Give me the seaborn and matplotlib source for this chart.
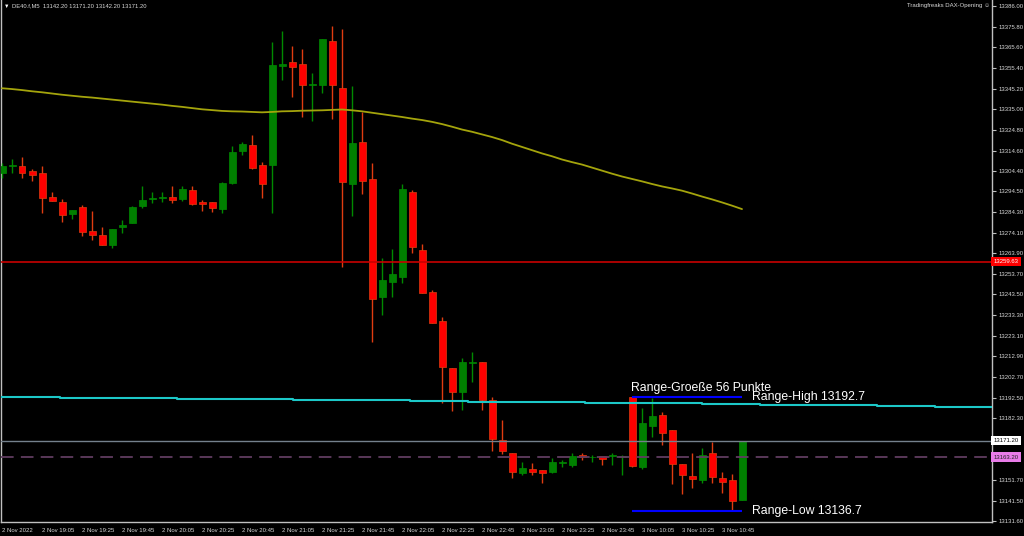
import numpy as np, pandas as pd, matplotlib
matplotlib.use('Agg')
import matplotlib.pyplot as plt
import matplotlib.transforms as mtransforms
import seaborn as sns

# --- candle data (DE40.f, M5) ---
opens = [13303.5, 13307.2, 13307.0, 13304.5, 13303.5, 13291.6, 13289.2, 13283.2, 13286.7, 13274.9,
         13272.9, 13267.9, 13276.8, 13278.8, 13287.2, 13290.7, 13291.2, 13291.6, 13290.7, 13295.1,
         13289.2, 13289.2, 13285.7, 13298.6, 13314.4, 13317.3, 13307.5, 13307.5, 13356.4, 13358.3,
         13357.3, 13347.0, 13347.0, 13368.7, 13345.5, 13298.1, 13318.8, 13300.5, 13242.2, 13249.7,
         13252.1, 13294.1, 13265.5, 13244.7, 13230.4, 13207.2, 13195.3, 13209.6, 13210.1, 13191.4,
         13171.6, 13165.2, 13155.3, 13157.3, 13156.8, 13155.8, 13160.2, 13159.3, 13164.2, 13163.0,
         13163.7, 13163.7, 13163.2, 13192.7, 13158.3, 13178.5, 13184.0, 13176.5, 13159.7, 13153.8,
         13151.8, 13165.2, 13152.8, 13151.8, 13142.2]
highs = [13308.4, 13310.4, 13311.4, 13305.5, 13307.0, 13294.1, 13290.7, 13285.2, 13287.7, 13284.7,
         13276.8, 13275.8, 13280.3, 13287.2, 13297.1, 13294.1, 13294.1, 13297.1, 13297.1, 13297.1,
         13290.2, 13289.2, 13299.1, 13316.8, 13318.8, 13322.3, 13308.9, 13368.2, 13373.6, 13366.2,
         13364.8, 13352.9, 13369.7, 13376.1, 13374.6, 13346.5, 13333.6, 13308.4, 13261.5, 13266.0,
         13298.1, 13295.1, 13268.4, 13245.7, 13232.4, 13207.2, 13212.1, 13215.1, 13210.1, 13192.8,
         13181.5, 13165.2, 13160.7, 13160.2, 13156.8, 13162.7, 13161.7, 13165.2, 13165.2, 13164.2,
         13163.7, 13165.2, 13164.2, 13192.7, 13187.4, 13192.5, 13185.4, 13176.5, 13159.7, 13165.2,
         13167.7, 13170.6, 13155.8, 13154.8, 13171.2]
lows = [13301.0, 13303.5, 13301.0, 13299.5, 13283.7, 13289.7, 13279.3, 13280.8, 13272.4, 13270.4,
        13267.9, 13266.5, 13273.9, 13278.8, 13286.2, 13288.7, 13289.2, 13288.7, 13289.7, 13287.7,
        13284.7, 13284.2, 13283.7, 13298.1, 13312.4, 13305.5, 13291.2, 13283.7, 13349.4, 13341.0,
        13331.2, 13329.2, 13343.0, 13330.2, 13257.1, 13282.3, 13293.1, 13220.0, 13233.4, 13242.2,
        13249.2, 13264.0, 13244.2, 13229.4, 13189.9, 13185.9, 13186.4, 13200.3, 13186.4, 13166.2,
        13164.7, 13152.8, 13154.3, 13154.3, 13150.4, 13155.3, 13158.3, 13158.3, 13161.7, 13160.7,
        13159.3, 13159.3, 13154.3, 13158.3, 13157.3, 13173.1, 13169.1, 13149.9, 13144.9, 13147.9,
        13150.4, 13150.4, 13145.4, 13136.7, 13142.2]
closes = [13307.0, 13307.5, 13303.5, 13302.5, 13291.2, 13289.7, 13282.8, 13285.2, 13274.4, 13272.9,
          13267.9, 13275.8, 13277.8, 13286.7, 13290.2, 13291.2, 13291.6, 13290.2, 13295.6, 13288.2,
          13288.2, 13286.2, 13298.6, 13313.9, 13317.8, 13306.0, 13298.1, 13356.9, 13357.3, 13355.9,
          13347.0, 13347.5, 13369.7, 13347.0, 13299.1, 13318.3, 13299.5, 13241.3, 13250.6, 13253.6,
          13295.6, 13266.9, 13244.2, 13229.4, 13207.7, 13195.3, 13210.1, 13210.1, 13191.4, 13172.1,
          13166.2, 13155.8, 13157.8, 13155.8, 13155.3, 13160.7, 13160.7, 13163.7, 13163.2, 13163.2,
          13162.2, 13164.2, 13163.7, 13158.8, 13180.0, 13183.5, 13175.1, 13159.7, 13154.3, 13152.3,
          13164.2, 13153.3, 13150.9, 13141.5, 13171.2]

# slow moving average (yellow)
ma_slow = [13345.4, 13345.0, 13344.5, 13343.9, 13343.4, 13342.8, 13342.2, 13341.7, 13341.2, 13340.8,
           13340.3, 13339.8, 13339.3, 13338.8, 13338.3, 13337.8, 13337.3, 13336.7, 13336.2, 13335.6,
           13335.0, 13334.6, 13334.2, 13334.0, 13333.9, 13333.7, 13333.5, 13333.7, 13334.0, 13334.1,
           13334.3, 13334.4, 13334.5, 13334.7, 13334.9, 13334.5, 13334.0, 13333.3, 13332.6, 13331.9,
           13331.2, 13330.4, 13329.7, 13328.8, 13327.7, 13326.4, 13325.0, 13323.9, 13322.6, 13321.3,
           13319.8, 13318.0, 13316.4, 13314.8, 13313.2, 13311.8, 13310.2, 13308.9, 13307.7, 13306.2,
           13304.7, 13303.2, 13301.8, 13300.6, 13299.4, 13298.1, 13296.9, 13295.9, 13294.8, 13293.4,
           13291.9, 13290.5, 13289.0, 13287.4, 13285.7]

# higher timeframe average (cyan, stepped)
cyan_x = [-0.2, 5.8, 11.6, 17.5, 23.3, 29.1, 35.0, 40.8, 46.6, 52.5, 58.3, 64.1, 70.0, 75.8, 81.6,
          87.5, 93.3, 99.0]
cyan_vals = [13192.8, 13192.6, 13192.3, 13192.0, 13191.7, 13191.5, 13191.3, 13191.0, 13190.5, 13190.2,
             13189.9, 13189.7, 13189.4, 13189.0, 13188.7, 13188.4, 13187.9, 13187.9]

red_level = 13259.63
bid_level = 13171.20
open_level = 13163.20
range_high = 13192.7
range_low = 13136.7
range_start, range_end = 63, 74

ytick_vals = [13386.0, 13375.8, 13365.6, 13355.4, 13345.2, 13335.0, 13324.8, 13314.6, 13304.4, 13294.5,
              13284.3, 13274.1, 13263.9, 13253.7, 13243.5, 13233.3, 13223.1, 13212.9, 13202.7, 13192.5,
              13182.3, 13172.1, 13161.9, 13151.7, 13141.5, 13131.6]
# the two labels hidden behind the price tags stay blank
hidden_ticks = [13172.1, 13161.9]
ytick_labels = ['' if v in hidden_ticks else f'{v:.2f}' for v in ytick_vals]

times = list(pd.date_range('2022-11-02 18:45', periods=63, freq='5min')) + \
        list(pd.date_range('2022-11-03 10:00', periods=12, freq='5min'))
xtick_idx = list(range(0, 75, 4))
xtick_labels = ['2 Nov 2022'] + [f"{times[i].day} {times[i].strftime('%b %H:%M')}" for i in xtick_idx[1:]]

# --- style ---
sns.set_style('dark', rc={'axes.facecolor': 'black', 'figure.facecolor': 'black'})
plt.rcParams['font.family'] = ['Liberation Sans', 'DejaVu Sans']

fig = plt.figure(figsize=(10.24, 5.36), dpi=100)
ax = fig.add_axes([1/1024, 14/536, 991/1024, 522/536])
ax.set_facecolor('black')

df = pd.DataFrame({'i': np.arange(len(opens)), 'o': opens, 'h': highs, 'l': lows, 'c': closes})
up = df.c >= df.o
body_col = np.where(up, '#008000', '#ff0000')
wick_col = np.where(up, '#008a00', '#e03c10')

ax.vlines(df.i, df.l, df.h, colors=wick_col, lw=1.0, zorder=3)
ax.bar(df.i, np.maximum((df.c - df.o).abs(), 0.45), bottom=np.minimum(df.o, df.c),
       width=0.7, color=body_col, edgecolor=wick_col, linewidth=0.5, zorder=4)

sns.lineplot(x=df.i, y=ma_slow, ax=ax, color='#a4a40c', lw=1.3, zorder=5)
sns.lineplot(x=cyan_x, y=cyan_vals, ax=ax, color='#1cc8c8', lw=1.5, drawstyle='steps-post', zorder=5)

ax.axhline(red_level, color='#c80000', lw=1.2, zorder=5)
ax.axhline(bid_level, color='#74808c', lw=1.0, zorder=5)
ax.axhline(open_level, color='#603c60', lw=1.3, ls=(0, (7, 4)), zorder=5)
ax.hlines([range_high, range_low], range_start, range_end, color='#0000ff', lw=1.5, zorder=6)

tf = dict(color='white', fontsize=8.8, zorder=7)
ax.annotate('Range-Groeße 56 Punkte', (range_start, range_high), xytext=(-0.5, 2.5),
            textcoords='offset points', va='bottom', ha='left', **tf)
ax.text(range_end + 1, range_high, 'Range-High 13192.7', va='center', ha='left', **tf)
ax.text(range_end + 1, range_low, 'Range-Low 13136.7', va='center', ha='left', **tf)

ax.set_xlim(-0.1, 99.0)
ax.set_ylim(13131.1, 13389.0)

ax.yaxis.tick_right()
ax.set_yticks(ytick_vals)
ax.set_yticklabels(ytick_labels)
ax.set_xticks(xtick_idx)
ax.set_xticklabels(xtick_labels)
plt.setp(ax.get_xticklabels(), ha='left')
ax.tick_params(axis='both', colors='#c0c0c0', labelcolor='#d8d8d8', labelsize=4.3,
               length=3, width=0.8, direction='out')
ax.tick_params(axis='y', pad=2)
ax.tick_params(axis='x', pad=1.5)
ax.grid(False)
for s in ['left', 'bottom', 'right']:
    ax.spines[s].set_visible(True)
    ax.spines[s].set_color('#c0c0c0')
    ax.spines[s].set_linewidth(1.0)
ax.spines['top'].set_visible(False)
ax.set_xlabel('')
ax.set_ylabel('')

# price tags on the right scale
blend = mtransforms.blended_transform_factory(ax.transAxes, ax.transData)
for val, fc, tc in [(red_level, '#ff0000', 'white'), (bid_level, 'white', 'black'),
                    (open_level, '#e87ce8', '#202020')]:
    ax.text(1.0015, val, f'{val:.2f}', transform=blend, fontsize=4.3, color=tc, va='center',
            ha='left', clip_on=False, zorder=10,
            bbox=dict(boxstyle='square,pad=0.35', fc=fc, ec='none'))

fig.text(4/1024, 1 - 6/536, '▼', color='white', fontsize=4, va='center', ha='left')
fig.text(12/1024, 1 - 6/536, 'DE40.f,M5  13142.20 13171.20 13142.20 13171.20',
         color='#d8d8d8', fontsize=4.2, va='center', ha='left')
fig.text(990/1024, 1 - 6/536, 'Tradingfreaks DAX-Opening ☺', color='#d8d8d8',
         fontsize=4.3, va='center', ha='right')

plt.savefig('out.png', dpi=100, facecolor='black')
plt.close()
